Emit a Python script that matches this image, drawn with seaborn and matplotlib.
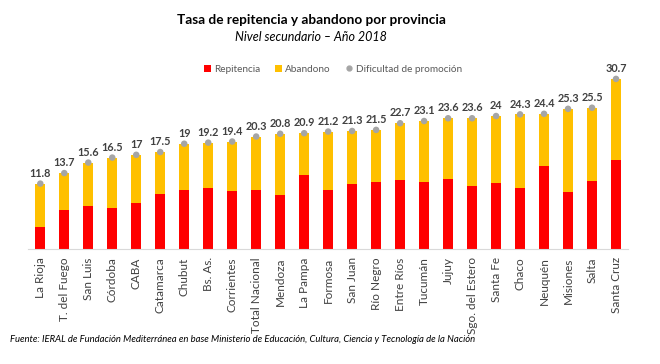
import matplotlib
matplotlib.use("Agg")
import matplotlib.pyplot as plt
import seaborn as sns
import pandas as pd
from matplotlib.patches import Patch
from matplotlib.lines import Line2D

provincias = ["La Rioja", "T. del Fuego", "San Luis", "Córdoba", "CABA", "Catamarca",
              "Chubut", "Bs. As.", "Corrientes", "Total Nacional", "Mendoza", "La Pampa",
              "Formosa", "San Juan", "Río Negro", "Entre Ríos", "Tucumán", "Jujuy",
              "Sgo. del Estero", "Santa Fe", "Chaco", "Neuquén", "Misiones", "Salta",
              "Santa Cruz"]
dificultad = [11.8, 13.7, 15.6, 16.5, 17, 17.5, 19, 19.2, 19.4, 20.3, 20.8, 20.9,
              21.2, 21.3, 21.5, 22.7, 23.1, 23.6, 23.6, 24, 24.3, 24.4, 25.3, 25.5, 30.7]
repitencia = [3.9, 7.0, 7.7, 7.4, 8.3, 9.9, 10.6, 11.0, 10.5, 10.6, 9.8, 13.4,
              10.6, 11.7, 12.1, 12.5, 12.1, 12.7, 11.4, 11.9, 11.1, 14.9, 10.2, 12.3, 16.1]
abandono = [round(t - r, 1) for t, r in zip(dificultad, repitencia)]
etiquetas = ["11.8", "13.7", "15.6", "16.5", "17", "17.5", "19", "19.2", "19.4", "20.3",
             "20.8", "20.9", "21.2", "21.3", "21.5", "22.7", "23.1", "23.6", "23.6", "24",
             "24.3", "24.4", "25.3", "25.5", "30.7"]

df = pd.DataFrame({"provincia": provincias, "repitencia": repitencia,
                   "abandono": abandono, "dificultad": dificultad})
df["tope"] = df["repitencia"] + df["abandono"]

sns.set_theme(style="white")
plt.rcParams["font.family"] = ["Lato", "DejaVu Sans"]

RED = "#FF0000"
YEL = "#FFC000"
GRY = "#A5A5A5"
TXT = "#404040"

W, H = 660, 364
fig = plt.figure(figsize=(6.6, 3.64), dpi=100)
base = 249
ymax = 35
ppu = 5.54
top_px = base - ymax * ppu
left_px, right_px = 28.3, 628.0
ax = fig.add_axes([left_px / W, (H - base) / H, (right_px - left_px) / W, (base - top_px) / H])

sns.barplot(data=df, x="provincia", y="tope", color=YEL, width=0.4, saturation=1,
            ax=ax, edgecolor="none")
sns.barplot(data=df, x="provincia", y="repitencia", color=RED, width=0.4, saturation=1,
            ax=ax, edgecolor="none")
sns.scatterplot(data=df, x="provincia", y="dificultad", color=GRY, s=22, ax=ax,
                edgecolor="none", zorder=5)

for i, (v, lab) in enumerate(zip(dificultad, etiquetas)):
    ax.annotate(lab, (i, v), xytext=(0, 3.5), textcoords="offset points", ha="center",
                va="bottom", fontsize=7.8, fontweight="bold", color=TXT)

ax.set_ylim(0, ymax)
ax.set_xlim(-0.5, len(provincias) - 0.5)
ax.set_xlabel("")
ax.set_ylabel("")
ax.set_yticks([])
for s in ["top", "right", "left"]:
    ax.spines[s].set_visible(False)
ax.spines["bottom"].set_color("#D9D9D9")
ax.spines["bottom"].set_linewidth(0.8)
ax.tick_params(axis="x", length=0, pad=6, labelsize=8.5, labelcolor=TXT)
plt.setp(ax.get_xticklabels(), rotation=90)

fig.text(311 / W, 1 - 20 / H, "Tasa de repitencia y abandono por provincia", ha="center",
         va="center", fontsize=9.8, fontweight="bold", color="#000000")
fig.text(311 / W, 1 - 37 / H, "Nivel secundario – Año 2018", ha="center", va="center",
         fontsize=9.0, fontstyle="italic", color="#000000")

handles = [Patch(facecolor=RED, edgecolor="none"),
           Patch(facecolor=YEL, edgecolor="none"),
           Line2D([], [], marker="o", linestyle="none", color=GRY, markersize=3.5)]
fig.legend(handles, ["Repitencia", "Abandono", "Dificultad de promoción"],
           loc="center", bbox_to_anchor=(333 / W, 1 - 69 / H), ncol=3, frameon=False,
           fontsize=7.2, labelcolor="#595959", handlelength=0.7, handleheight=0.7,
           handletextpad=0.3, columnspacing=1.5)

fig.text(10 / W, 1 - 339 / H,
         "Fuente: IERAL de Fundación Mediterránea en base Ministerio de Educación, Cultura, Ciencia y Tecnología de la Nación",
         ha="left", va="center", fontsize=6.8, fontstyle="italic", color="#000000")

fig.savefig("out.png", dpi=100)
